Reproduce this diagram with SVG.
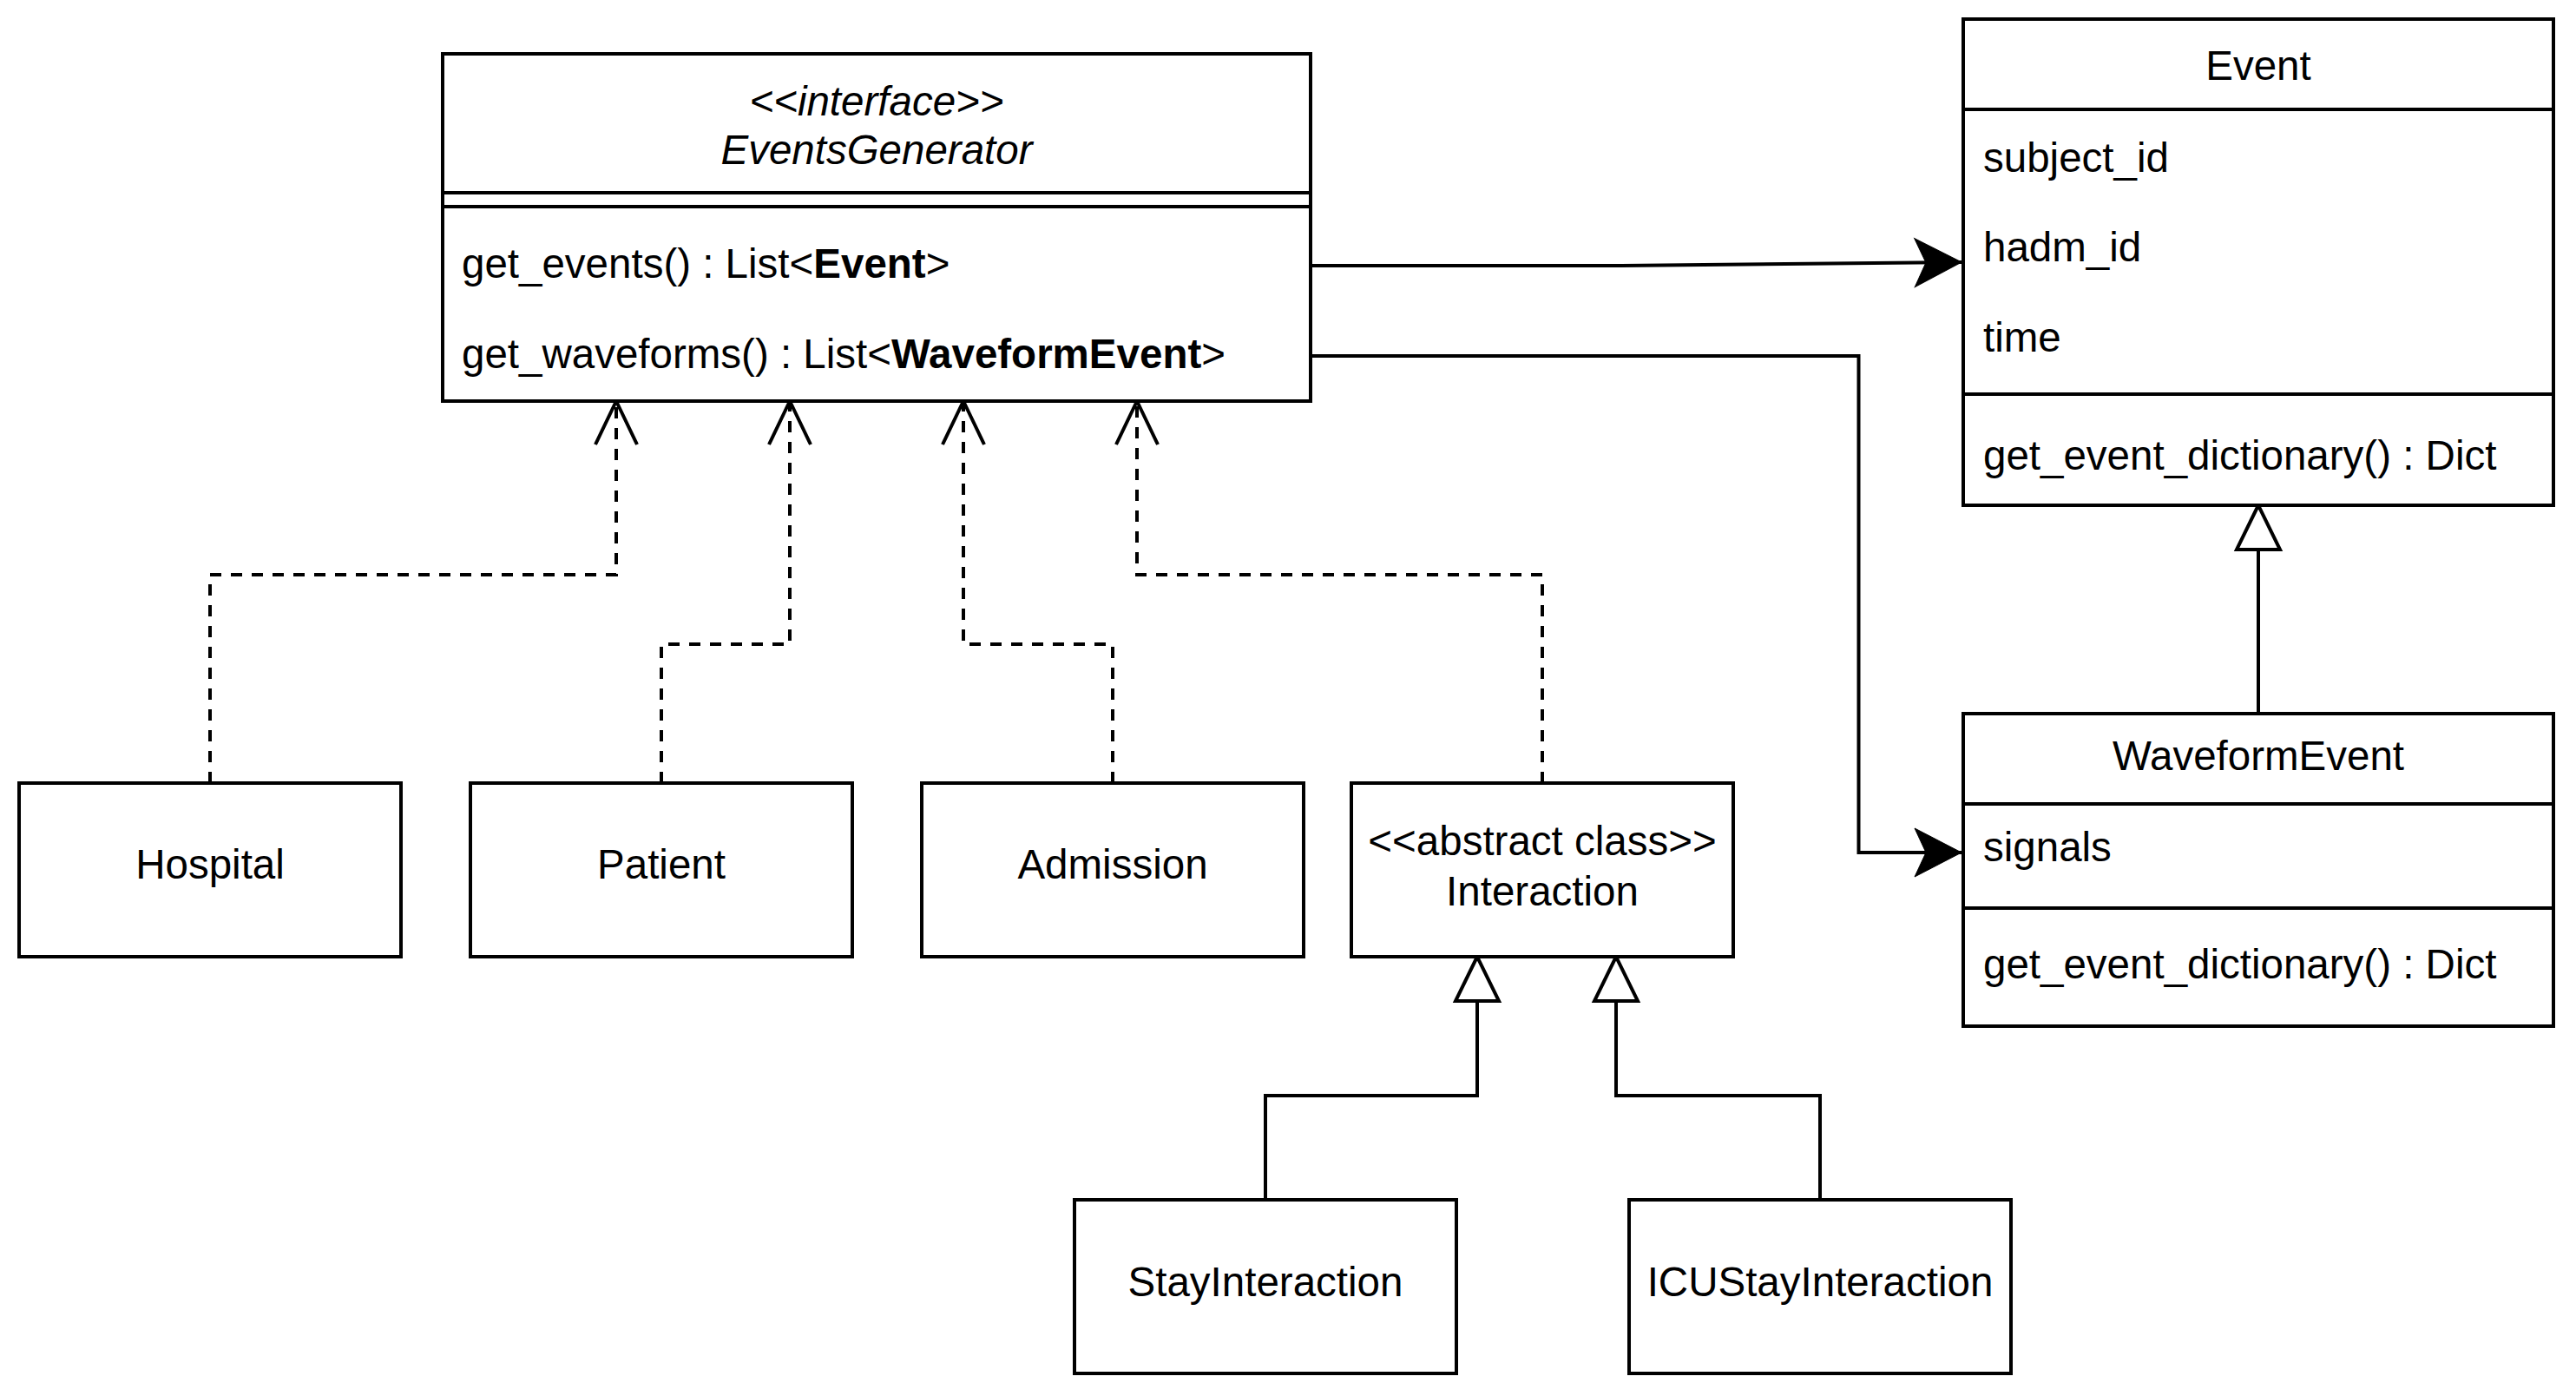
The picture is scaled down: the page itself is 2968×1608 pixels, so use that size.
<svg xmlns="http://www.w3.org/2000/svg" width="2968" height="1608" viewBox="0 0 2968 1608">
<style>
text{font-family:"Liberation Sans",Arial,Helvetica,sans-serif;font-size:47.5px;fill:#000}
.c{text-anchor:middle}
.it{font-style:italic}
.b{font-weight:bold}
.box{fill:#fff;stroke:#000;stroke-width:4}
.sep{stroke:#000;stroke-width:4;fill:none}
.edge{fill:none;stroke:#000;stroke-width:4}
.dash{stroke-dasharray:13 11}
</style>
<defs>
<marker id="filled" markerUnits="userSpaceOnUse" orient="auto" markerWidth="100" markerHeight="100" viewBox="-80 -50 100 100" refX="0" refY="0" overflow="visible">
<path d="M0 0 L-54 -28 L-41 0 L-54 28 Z" fill="#000" stroke="#000" stroke-width="1"/>
</marker>
<marker id="open" markerUnits="userSpaceOnUse" orient="auto" markerWidth="100" markerHeight="100" viewBox="-80 -50 100 100" refX="0" refY="0" overflow="visible">
<path d="M-50 -24 L0 0 L-50 24" fill="none" stroke="#000" stroke-width="4"/>
</marker>
<marker id="tri" markerUnits="userSpaceOnUse" orient="auto" markerWidth="100" markerHeight="100" viewBox="-80 -50 100 100" refX="0" refY="0" overflow="visible">
<path d="M0 0 L-51 -25 L-51 25 Z" fill="#fff" stroke="#000" stroke-width="4"/>
</marker>
</defs>
<rect width="2968" height="1608" fill="#fff"/>

<g id="connectors">
<path class="edge" d="M1510 306 L1868 306 L2260 302" marker-end="url(#filled)"/>
<path class="edge" d="M1510 410 L2141.5 410 L2141.5 982 L2260 982" marker-end="url(#filled)"/>
<path class="edge dash" d="M242 902 L242 662 L710 662 L710 462" marker-end="url(#open)"/>
<path class="edge dash" d="M762 902 L762 742 L910 742 L910 462" marker-end="url(#open)"/>
<path class="edge dash" d="M1282 902 L1282 742 L1110 742 L1110 462" marker-end="url(#open)"/>
<path class="edge dash" d="M1777 902 L1777 662 L1310 662 L1310 462" marker-end="url(#open)"/>
<path class="edge" d="M1458 1382 L1458 1262 L1702 1262 L1702 1102" marker-end="url(#tri)"/>
<path class="edge" d="M2097 1382 L2097 1262 L1862 1262 L1862 1102" marker-end="url(#tri)"/>
<path class="edge" d="M2602 822 L2602 582" marker-end="url(#tri)"/>
</g>

<g id="EventsGenerator">
<rect class="box" x="510" y="62" width="1000" height="400"/>
<line class="sep" x1="510" y1="222" x2="1510" y2="222"/>
<line class="sep" x1="510" y1="238" x2="1510" y2="238"/>
<text class="c it" x="1010" y="133">&lt;&lt;interface&gt;&gt;</text>
<text class="c it" x="1010" y="189">EventsGenerator</text>
<text x="532" y="320">get_events() : List&lt;<tspan class="b">Event</tspan>&gt;</text>
<text x="532" y="424">get_waveforms() : List&lt;<tspan class="b">WaveformEvent</tspan>&gt;</text>
</g>

<g id="Event">
<rect class="box" x="2262" y="22" width="680" height="560"/>
<line class="sep" x1="2262" y1="126" x2="2942" y2="126"/>
<line class="sep" x1="2262" y1="454" x2="2942" y2="454"/>
<text class="c" x="2602" y="92">Event</text>
<text x="2285" y="198">subject_id</text>
<text x="2285" y="301">hadm_id</text>
<text x="2285" y="405">time</text>
<text x="2285" y="541">get_event_dictionary() : Dict</text>
</g>

<g id="WaveformEvent">
<rect class="box" x="2262" y="822" width="680" height="360"/>
<line class="sep" x1="2262" y1="926" x2="2942" y2="926"/>
<line class="sep" x1="2262" y1="1046" x2="2942" y2="1046"/>
<text class="c" x="2602" y="887">WaveformEvent</text>
<text x="2285" y="992">signals</text>
<text x="2285" y="1127">get_event_dictionary() : Dict</text>
</g>

<g id="Hospital">
<rect class="box" x="22" y="902" width="440" height="200"/>
<text class="c" x="242" y="1012">Hospital</text>
</g>
<g id="Patient">
<rect class="box" x="542" y="902" width="440" height="200"/>
<text class="c" x="762" y="1012">Patient</text>
</g>
<g id="Admission">
<rect class="box" x="1062" y="902" width="440" height="200"/>
<text class="c" x="1282" y="1012">Admission</text>
</g>
<g id="Interaction">
<rect class="box" x="1557" y="902" width="440" height="200"/>
<text class="c" x="1777" y="985">&lt;&lt;abstract class&gt;&gt;</text>
<text class="c" x="1777" y="1043">Interaction</text>
</g>
<g id="StayInteraction">
<rect class="box" x="1238" y="1382" width="440" height="200"/>
<text class="c" x="1458" y="1493">StayInteraction</text>
</g>
<g id="ICUStayInteraction">
<rect class="box" x="1877" y="1382" width="440" height="200"/>
<text class="c" x="2097" y="1493">ICUStayInteraction</text>
</g>
</svg>
